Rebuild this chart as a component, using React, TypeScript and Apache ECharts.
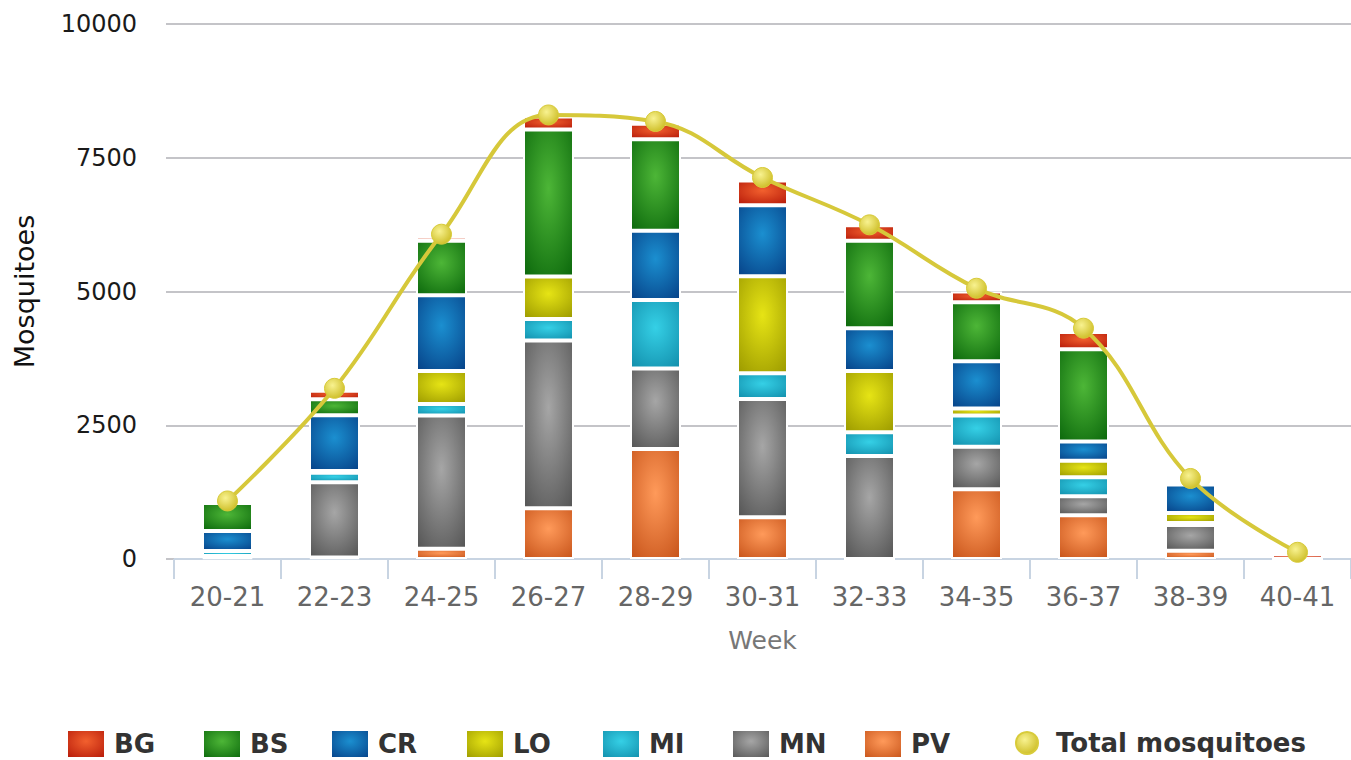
import React, { useEffect, useRef } from "react";
import * as echarts from "echarts";

const weeks = ["20-21", "22-23", "24-25", "26-27", "28-29", "30-31", "32-33", "34-35", "36-37", "38-39", "40-41"];
const PV = [25, 30, 193, 948, 2057, 780, 0, 1303, 817, 153, 0];
const MN = [30, 1404, 2487, 3134, 1502, 2212, 1926, 797, 355, 483, 0];
const MI = [95, 180, 219, 406, 1284, 480, 443, 580, 356, 37, 0];
const LO = [0, 31, 617, 791, 0, 1814, 1147, 131, 310, 187, 0];
const CR = [374, 1042, 1415, 0, 1291, 1328, 798, 886, 356, 533, 0];
const BS = [523, 299, 1016, 2749, 1714, 0, 1633, 1103, 1727, 0, 0];
const BG = [0, 161, 80, 243, 287, 461, 293, 199, 324, 75, 90];
const TOTAL = [1085, 3190, 6071, 8300, 8178, 7131, 6246, 5061, 4314, 1505, 125];

const yTicks = { min: 0, max: 10000, interval: 2500 };

const grad = (light: string, dark: string) => ({
  type: "radial",
  x: 0.5,
  y: 0.4,
  r: 0.75,
  colorStops: [
    { offset: 0, color: light },
    { offset: 1, color: dark },
  ],
});

const speciesDefs = [
  { name: "PV", data: PV, light: "#ff9a5a", dark: "#c9561c" },
  { name: "MN", data: MN, light: "#a6a6a6", dark: "#575757" },
  { name: "MI", data: MI, light: "#35d0e6", dark: "#1390ad" },
  { name: "LO", data: LO, light: "#e6e415", dark: "#9e9c00" },
  { name: "CR", data: CR, light: "#1b8fd0", dark: "#07448a" },
  { name: "BS", data: BS, light: "#4db637", dark: "#0d6a0d" },
  { name: "BG", data: BG, light: "#f2602e", dark: "#b71b0a" },
];

const legendPos: Record<string, number> = {
  BG: 66,
  BS: 202,
  CR: 330,
  LO: 465,
  MI: 601,
  MN: 731,
  PV: 863,
};

export default function App() {
  const ref = useRef<HTMLDivElement>(null);
  useEffect(() => {
    if (!ref.current) return;
    const chart = echarts.init(ref.current, undefined, { renderer: "svg" });
    const font = "DejaVu Sans";
    const barSeries = speciesDefs.map((s) => ({
      name: s.name,
      type: "bar",
      stack: "total",
      barWidth: 51,
      data: s.data,
      itemStyle: {
        color: grad(s.light, s.dark),
        borderColor: "#ffffff",
        borderWidth: 2,
      },
    }));
    const legendText = {
      fontFamily: font,
      fontWeight: "bold",
      fontSize: 26,
      lineHeight: 28,
      color: "#333333",
    };
    const legends: any[] = ["BG", "BS", "CR", "LO", "MI", "MN", "PV"].map((n) => ({
      data: [{ name: n, icon: "rect" }],
      left: legendPos[n],
      top: 729,
      padding: 0,
      itemWidth: 38,
      itemHeight: 28,
      itemGap: 0,
      selectedMode: false,
      textStyle: { ...legendText, padding: [0, 0, 0, 4] },
    }));
    legends.push({
      data: [{ name: "Total mosquitoes", icon: "circle" }],
      left: 1015,
      top: 729,
      padding: 0,
      itemWidth: 22,
      itemHeight: 22,
      selectedMode: false,
      textStyle: { ...legendText, padding: [0, 0, 0, 13] },
    });
    chart.setOption({
      animation: false,
      backgroundColor: "#ffffff",
      legend: legends,
      grid: { left: 174, top: 24, width: 1185, height: 535, containLabel: false },
      xAxis: {
        type: "category",
        data: weeks,
        name: "Week",
        nameLocation: "middle",
        nameGap: 69,
        nameTextStyle: { fontFamily: font, fontSize: 25, color: "#777777" },
        axisLine: { lineStyle: { color: "#c8d4e2", width: 2 } },
        axisTick: { show: true, length: 20, interval: 0, lineStyle: { color: "#c8d4e2", width: 2 } },
        axisLabel: { fontFamily: font, fontSize: 26, color: "#666666", margin: 25, interval: 0 },
      },
      yAxis: {
        type: "value",
        min: yTicks.min,
        max: yTicks.max,
        interval: yTicks.interval,
        name: "Mosquitoes",
        nameLocation: "middle",
        nameGap: 136,
        nameRotate: 90,
        nameTextStyle: { fontFamily: font, fontSize: 27, color: "#111111" },
        axisLine: { show: false },
        axisTick: { show: true, length: 8, lineStyle: { color: "#c4c4c8", width: 2 } },
        axisLabel: {
          fontFamily: font,
          fontSize: 24,
          color: "#1a1a1a",
          margin: 37,
          formatter: (v: number) => String(v),
        },
        splitLine: { lineStyle: { color: "#c4c4c8", width: 2 } },
      },
      series: [
        ...barSeries,
        {
          name: "Total mosquitoes",
          type: "line",
          data: TOTAL,
          smooth: 0.4,
          z: 10,
          symbol: "circle",
          symbolSize: 20,
          lineStyle: { color: "#d6c83a", width: 4 },
          itemStyle: {
            color: {
              type: "radial",
              x: 0.4,
              y: 0.35,
              r: 0.7,
              colorStops: [
                { offset: 0, color: "#f8f290" },
                { offset: 1, color: "#cdbd25" },
              ],
            },
            borderColor: "#d8cb3a",
            borderWidth: 1,
          },
        },
      ],
    });
    return () => chart.dispose();
  }, []);
  return (
    <div
      ref={ref}
      style={{ position: "absolute", left: 0, top: 0, width: 1351, height: 760 }}
    />
  );
}
